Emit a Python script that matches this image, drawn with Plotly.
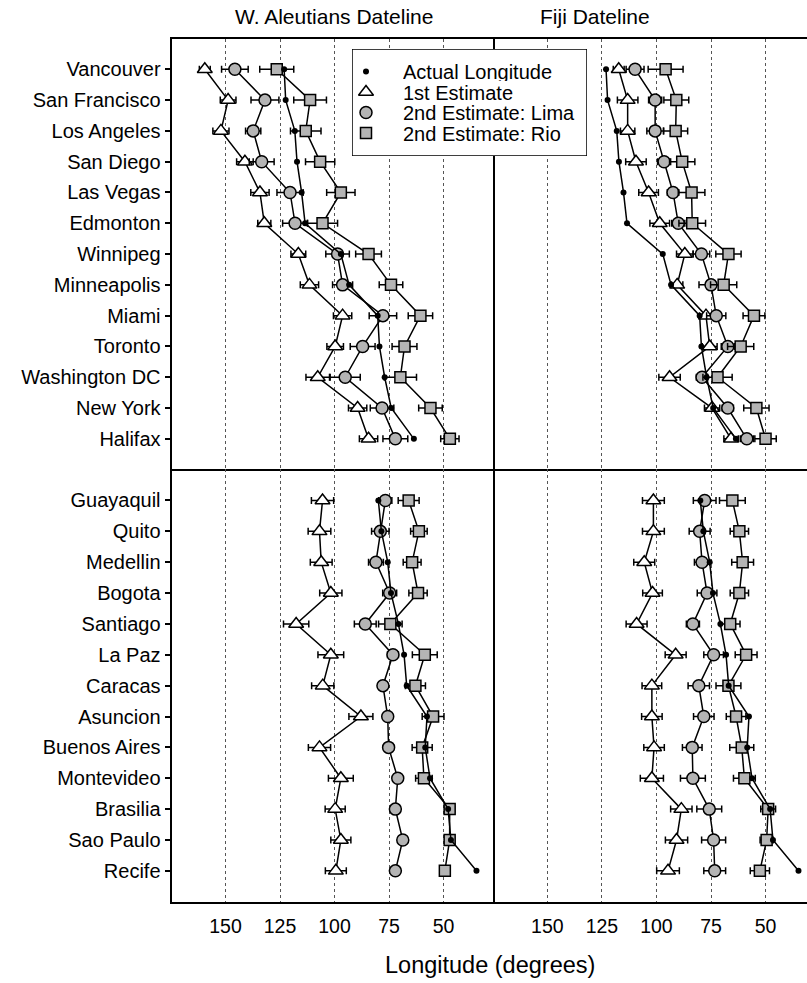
import plotly.graph_objects as go

# City order (top to bottom) for each region
na_cities = ["Vancouver", "San Francisco", "Los Angeles", "San Diego", "Las Vegas",
             "Edmonton", "Winnipeg", "Minneapolis", "Miami", "Toronto",
             "Washington DC", "New York", "Halifax"]
sa_cities = ["Guayaquil", "Quito", "Medellin", "Bogota", "Santiago", "La Paz",
             "Caracas", "Asuncion", "Buenos Aires", "Montevideo", "Brasilia",
             "Sao Paulo", "Recife"]

# Actual longitudes (degrees W)
na_actual = [123.1, 122.4, 118.2, 117.2, 115.1, 113.5, 97.1, 93.3, 80.2, 79.4, 77.0, 74.0, 63.6]
sa_actual = [79.9, 78.5, 75.6, 74.1, 70.7, 68.1, 66.9, 57.6, 58.4, 56.2, 47.9, 46.6, 34.9]

# W. Aleutians dateline, North America
aleut_na_first = [159.5, 148.8, 152.1, 141.1, 134.2, 132.2, 116.6, 111.5, 96.3, 99.7, 107.7, 89.4, 84.4]
aleut_na_first_err = [2.5, 3.6, 3.7, 3.8, 4.2, 3.0, 3.4, 4.2, 4.2, 3.8, 5.4, 4.2, 4.2]
aleut_na_lima = [145.7, 131.9, 137.3, 133.4, 120.4, 118.1, 98.6, 96.3, 77.8, 87.1, 95.1, 78.2, 72.1]
aleut_na_lima_err = [6.1, 6.4, 3.5, 5.7, 6.0, 5.7, 5.4, 4.6, 6.3, 5.7, 6.9, 5.4, 5.7]
aleut_na_rio = [126.5, 111.2, 113.2, 106.6, 97.1, 105.5, 84.4, 74.1, 60.6, 67.9, 69.8, 56.0, 47.1]
aleut_na_rio_err = [7.8, 7.5, 7.0, 6.7, 6.5, 6.9, 5.9, 5.4, 5.6, 5.7, 7.4, 5.4, 4.2]

# Fiji dateline, North America
fiji_na_first = [117.3, 113.2, 113.2, 109.4, 103.6, 98.5, 87.0, 90.5, 77.3, 75.6, 94.0, 74.5, 65.8]
fiji_na_first_err = [2.5, 4.7, 3.3, 4.7, 4.5, 4.5, 3.8, 2.6, 3.0, 3.4, 4.9, 3.5, 3.3]
fiji_na_lima = [109.8, 100.6, 100.6, 96.5, 92.4, 90.0, 79.4, 75.0, 72.6, 67.3, 79.1, 67.3, 58.6]
fiji_na_lima_err = [4.1, 3.0, 3.8, 3.0, 2.6, 3.0, 3.8, 5.5, 4.4, 3.0, 2.6, 2.6, 3.0]
fiji_na_rio = [95.8, 90.9, 91.2, 88.2, 83.9, 83.6, 67.0, 69.2, 55.3, 61.4, 72.0, 54.2, 50.0]
fiji_na_rio_err = [8.0, 5.7, 5.5, 5.8, 6.1, 6.1, 5.8, 6.0, 5.0, 6.0, 6.7, 5.8, 4.9]

# W. Aleutians dateline, South America
aleut_sa_first = [105.5, 106.9, 106.1, 101.7, 117.6, 101.7, 105.4, 87.9, 106.9, 97.1, 99.7, 97.1, 99.4]
aleut_sa_first_err = [5.1, 5.2, 5.0, 5.1, 5.8, 5.9, 5.1, 5.5, 5.1, 5.7, 4.6, 4.6, 4.8]
aleut_sa_lima = [76.7, 79.0, 81.0, 74.7, 85.9, 73.2, 77.8, 75.6, 75.2, 71.0, 72.1, 68.7, 72.1]
aleut_sa_lima_err = [3.0, 4.0, 3.4, 3.2, 5.0, 2.5, 2.0, 2.0, 2.2, 1.5, 1.0, 1.0, 1.0]
aleut_sa_rio = [66.0, 61.3, 64.4, 61.7, 74.4, 58.6, 62.9, 54.8, 59.8, 59.0, 47.2, 47.2, 49.4]
aleut_sa_rio_err = [4.8, 3.8, 4.1, 4.2, 5.4, 5.7, 4.6, 5.0, 4.6, 3.8, 2.3, 2.3, 1.0]

# Fiji dateline, South America
fiji_sa_first = [101.4, 101.4, 105.6, 101.8, 109.1, 91.2, 102.1, 102.1, 101.1, 102.1, 88.6, 90.8, 94.7]
fiji_sa_first_err = [5.0, 5.0, 4.8, 4.5, 4.8, 4.8, 4.5, 4.7, 4.7, 5.3, 4.9, 5.1, 5.2]
fiji_sa_lima = [77.9, 80.2, 79.1, 76.8, 83.3, 73.8, 80.6, 78.3, 83.6, 83.3, 75.8, 73.8, 73.3]
fiji_sa_lima_err = [5.2, 4.8, 3.5, 4.5, 3.0, 4.5, 4.9, 4.7, 4.5, 5.7, 5.7, 5.5, 5.0]
fiji_sa_rio = [65.2, 62.0, 60.5, 62.0, 66.2, 58.9, 67.0, 63.5, 60.9, 59.7, 48.8, 49.5, 52.6]
fiji_sa_rio_err = [5.9, 4.2, 5.0, 4.2, 4.5, 5.0, 5.7, 4.5, 5.5, 5.0, 3.4, 3.0, 4.4]

x_ticks = [150, 125, 100, 75, 50]

# Legend entries: (style key, label)
legend_items = [("actual", "Actual Longitude"), ("first", "1st Estimate"),
                ("lima", "2nd Estimate: Lima"), ("rio", "2nd Estimate: Rio")]

FONT = "Liberation Sans, Arial, Helvetica, sans-serif"
GRAY = "#b4b4b4"
LINE_W = 1.5

STYLES = {
    "first": dict(symbol="triangle-up", size=13, color="white", lw=LINE_W),
    "lima": dict(symbol="circle", size=12, color=GRAY, lw=LINE_W),
    "rio": dict(symbol="square", size=11, color=GRAY, lw=LINE_W),
    "actual": dict(symbol="circle", size=6, color="black", lw=0),
}

panels = [
    # (x axis, y axis, cities, actual, [(key, values, errors), ...])
    ("x", "y", na_cities, na_actual,
     [("first", aleut_na_first, aleut_na_first_err),
      ("lima", aleut_na_lima, aleut_na_lima_err),
      ("rio", aleut_na_rio, aleut_na_rio_err)]),
    ("x2", "y2", na_cities, na_actual,
     [("first", fiji_na_first, fiji_na_first_err),
      ("lima", fiji_na_lima, fiji_na_lima_err),
      ("rio", fiji_na_rio, fiji_na_rio_err)]),
    ("x3", "y3", sa_cities, sa_actual,
     [("first", aleut_sa_first, aleut_sa_first_err),
      ("lima", aleut_sa_lima, aleut_sa_lima_err),
      ("rio", aleut_sa_rio, aleut_sa_rio_err)]),
    ("x4", "y4", sa_cities, sa_actual,
     [("first", fiji_sa_first, fiji_sa_first_err),
      ("lima", fiji_sa_lima, fiji_sa_lima_err),
      ("rio", fiji_sa_rio, fiji_sa_rio_err)]),
]


def marker(key):
    st = STYLES[key]
    return dict(symbol=st["symbol"], size=st["size"], color=st["color"],
                line=dict(color="black", width=st["lw"]))


fig = go.Figure()

for xa, ya, cities, actual, series in panels:
    for key, vals, errs in series:
        fig.add_trace(go.Scatter(
            x=vals, y=cities, xaxis=xa, yaxis=ya, mode="lines+markers",
            line=dict(color="black", width=LINE_W), marker=marker(key),
            error_x=dict(type="data", array=errs, color="black",
                         thickness=LINE_W, width=3.5),
            showlegend=False, hoverinfo="skip"))
    fig.add_trace(go.Scatter(
        x=actual, y=cities, xaxis=xa, yaxis=ya, mode="lines+markers",
        line=dict(color="black", width=LINE_W), marker=marker("actual"),
        showlegend=False, hoverinfo="skip"))

W, H = 807, 983

# Legend box: its own hidden axes, measured in pixels from its top-left corner
LEG_L, LEG_R, LEG_T, LEG_B = 352, 587, 49, 156
leg_w, leg_h = LEG_R - LEG_L, LEG_B - LEG_T
leg_rows = [22.5, 43, 63.5, 84]
for (key, label), row in zip(legend_items, leg_rows):
    fig.add_trace(go.Scatter(
        x=[14], y=[row], xaxis="x5", yaxis="y5", mode="markers",
        marker=marker(key), showlegend=False, hoverinfo="skip"))

x_left = [172.3 / W, 495 / W]
x_right = [495 / W, 1.0]
y_top = [1 - 468.7 / H, 1 - 38.5 / H]
y_bot = [1 - 901.7 / H, 1 - 468.7 / H]


def xaxis(domain, rng, anchor, labels, mirror):
    return dict(domain=domain, range=rng, anchor=anchor, tickvals=x_ticks,
                showticklabels=labels, ticks="", ticklabelstandoff=6,
                showgrid=True, griddash="dot",
                gridcolor="#555555", gridwidth=1, zeroline=False,
                showline=True, mirror=mirror, linecolor="black", linewidth=LINE_W,
                tickfont=dict(size=19.5, color="black", family=FONT))


def yaxis(domain, cities, rng, anchor, labels):
    return dict(domain=domain, anchor=anchor, type="category",
                categoryorder="array", categoryarray=cities, range=rng,
                showgrid=False, zeroline=False, showline=True,
                linecolor="black", linewidth=LINE_W,
                showticklabels=labels, ticks="outside" if labels else "",
                ticklen=6, tickwidth=LINE_W, tickcolor="black",
                tickfont=dict(size=20, color="black", family=FONT))


rng_left = [174.4, 26.4]
rng_right = [174.0, 31.0]

annotations = [
    dict(text="W. Aleutians Dateline", x=333.5 / W, y=1 - 17 / H,
         xref="paper", yref="paper", showarrow=False, yanchor="middle",
         font=dict(size=21, family=FONT, color="black")),
    dict(text="Fiji Dateline", x=652 / W, y=1 - 17 / H,
         xref="paper", yref="paper", showarrow=False, yanchor="middle",
         font=dict(size=21, family=FONT, color="black")),
    dict(text="Longitude (degrees)", x=490 / W, y=1 - 965 / H,
         xref="paper", yref="paper", showarrow=False, yanchor="middle",
         font=dict(size=23.5, family=FONT, color="black")),
]
for (key, label), row in zip(legend_items, leg_rows):
    annotations.append(dict(
        text=label, x=50, y=row, xref="x5", yref="y5", showarrow=False,
        xanchor="left", yanchor="middle", height=19, borderpad=0,
        valign="middle",
        font=dict(size=20, family=FONT, color="black")))

fig.update_layout(
    width=W, height=H,
    margin=dict(l=0, r=0, t=0, b=0),
    paper_bgcolor="white", plot_bgcolor="white",
    font=dict(family=FONT, color="black"),
    showlegend=False,
    xaxis=xaxis(x_left, rng_left, "y", False, True),
    xaxis2=xaxis(x_right, rng_right, "y2", False, True),
    xaxis3=xaxis(x_left, rng_left, "y3", True, False),
    xaxis4=xaxis(x_right, rng_right, "y4", True, False),
    yaxis=yaxis(y_top, na_cities, [12.97, -1], "x", True),
    yaxis2=yaxis(y_top, na_cities, [12.97, -1], "x2", False),
    yaxis3=yaxis(y_bot, sa_cities, [13.0, -1.03], "x3", True),
    yaxis4=yaxis(y_bot, sa_cities, [13.0, -1.03], "x4", False),
    xaxis5=dict(domain=[LEG_L / W, LEG_R / W], range=[0, leg_w], anchor="y5",
                visible=False, fixedrange=True),
    yaxis5=dict(domain=[1 - LEG_B / H, 1 - LEG_T / H], range=[leg_h, 0],
                anchor="x5", visible=False, fixedrange=True),
    shapes=[dict(type="rect", xref="x5", yref="y5", x0=0, x1=leg_w, y0=0, y1=leg_h,
                 fillcolor="white", line=dict(color="black", width=LINE_W),
                 layer="between")],
    annotations=annotations,
)

fig.write_html("out.html")
